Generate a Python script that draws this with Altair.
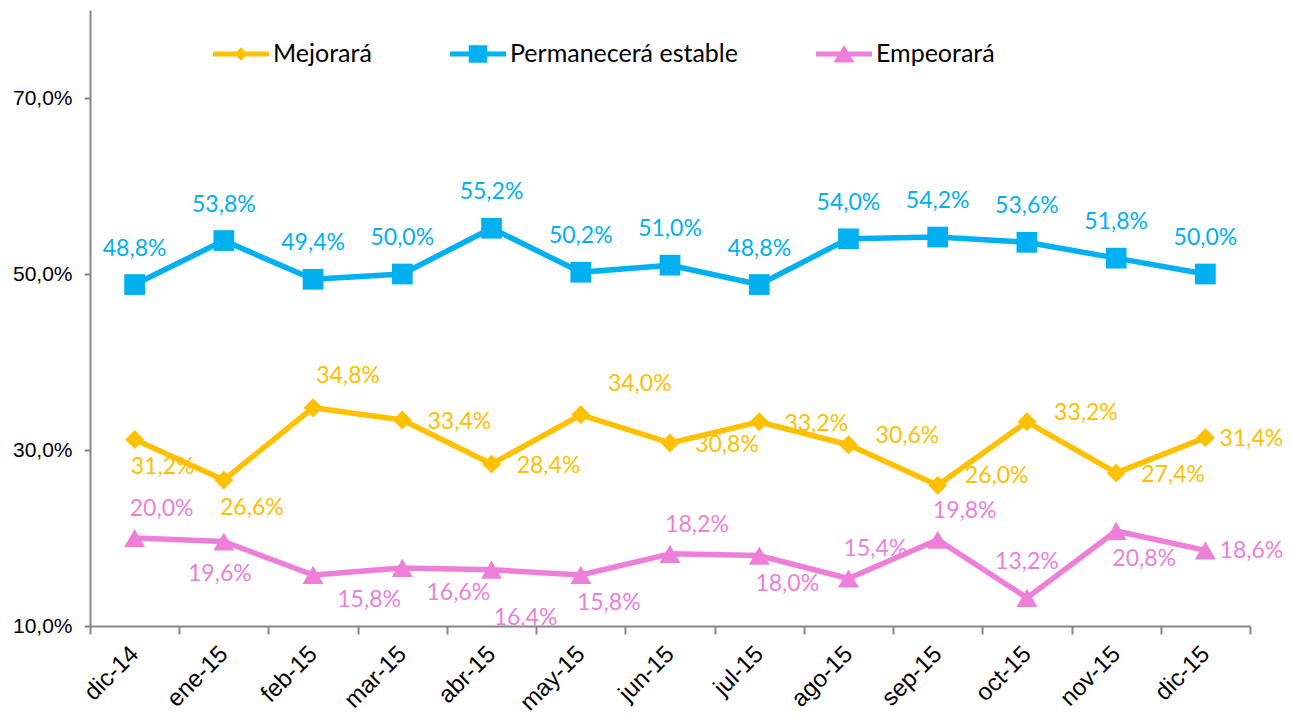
import altair as alt
import pandas as pd

meses = ["dic-14", "ene-15", "feb-15", "mar-15", "abr-15", "may-15", "jun-15",
         "jul-15", "ago-15", "sep-15", "oct-15", "nov-15", "dic-15"]
series = ["Mejorará", "Permanecerá estable", "Empeorará"]

mejorara = [31.2, 26.6, 34.8, 33.4, 28.4, 34.0, 30.8, 33.2, 30.6, 26.0, 33.2, 27.4, 31.4]
permanecera = [48.8, 53.8, 49.4, 50.0, 55.2, 50.2, 51.0, 48.8, 54.0, 54.2, 53.6, 51.8, 50.0]
empeorara = [20.0, 19.6, 15.8, 16.6, 16.4, 15.8, 18.2, 18.0, 15.4, 19.8, 13.2, 20.8, 18.6]

# data-label placement codes (compass-like)
pos_mejorara = ["SE", "SE", "NNE", "E", "E", "NEE", "E", "E", "ENE", "ENE", "ENE", "E", "EE"]
pos_permanecera = ["N"] * 13
pos_empeorara = ["NE", "S", "ESE", "ESE", "SSE", "SE", "NE", "SE", "NE", "NE", "N", "SE", "EE"]

colores = ["#FFC000", "#00B0F0", "#EE7FD9"]
formas = ["diamond", "square", "triangle-up"]
tamanos = [361, 430, 441]

# label offset style per placement code (dx, dy in px)
offsets = {
    "N": (0, -36), "NE": (27, -29), "NNE": (35, -32), "NEE": (59, -31),
    "ENE": (59, -9), "E": (57, 2), "EE": (46, 1), "ESE": (56, 25),
    "SE": (28, 28), "SSE": (34, 48), "S": (-4, 32),
}

rows = []
for serie, vals, poss in zip(series, [mejorara, permanecera, empeorara],
                             [pos_mejorara, pos_permanecera, pos_empeorara]):
    for m, v, p in zip(meses, vals, poss):
        rows.append({"mes": m, "serie": serie, "valor": v,
                     "label": f"{v:.1f}".replace(".", ",") + "%", "pos": p})
df = pd.DataFrame(rows)

x_enc = alt.X("mes:N", sort=meses, bandPosition=0.5,
              scale=alt.Scale(type="band", paddingInner=0, paddingOuter=0),
              axis=alt.Axis(title=None, labelAngle=-45, labelAlign="right",
                            labelBaseline="middle", tickBand="extent", tickSize=8,
                            labelPadding=16, labelFont="Liberation Sans",
                            labelFontSize=24, labelColor="#000000"))
y_enc = alt.Y("valor:Q", scale=alt.Scale(domain=[10, 80], nice=False, zero=False),
              axis=alt.Axis(title=None, values=[10, 30, 50, 70], grid=False,
                            labelExpr="replace(format(datum.value, '.1f'), '.', ',') + '%'",
                            tickSize=6, labelPadding=12, labelFont="Liberation Sans",
                            labelFontSize=21, labelColor="#000000"))

base = alt.Chart(df)

layers = []
# lines and markers, one layer per series, fixed colours
for serie, col in zip(series, colores):
    sub = base.transform_filter(alt.datum.serie == serie)
    layers.append(sub.mark_line(strokeWidth=5.5, strokeJoin="round", color=col)
                  .encode(x=x_enc, y=y_enc))
for serie, col, forma, tam in zip(series, colores, formas, tamanos):
    sub = base.transform_filter(alt.datum.serie == serie)
    layers.append(sub.mark_point(filled=True, opacity=1, shape=forma, size=tam, color=col)
                  .encode(x=x_enc, y=y_enc))

# legend symbols: line + marker glyphs
line_part = "M-1,-0.09H1V0.09H-1Z "
legend_paths = [
    line_part + "M0,-0.24L0.24,0L0,0.24L-0.24,0Z",
    line_part + "M-0.33,-0.31H0.33V0.31H-0.33Z",
    line_part + "M0,-0.32L0.38,0.3L-0.38,0.3Z",
]

legend = alt.Legend(
    title=None, orient="none", legendX=123, legendY=16, direction="horizontal",
    columns=3, columnPadding=78, labelOffset=4, symbolSize=3136, padding=0,
    labelFont="Lato", labelFontSize=25, labelColor="#000000", labelLimit=400,
    symbolStrokeWidth=0, symbolOpacity=1,
)

layers.append(base.mark_point(filled=True, opacity=0).encode(
    x=x_enc, y=y_enc,
    color=alt.Color("serie:N", scale=alt.Scale(domain=series, range=colores), legend=legend),
    shape=alt.Shape("serie:N", scale=alt.Scale(domain=series, range=legend_paths),
                    legend=legend),
))

# data labels
for serie, col, poss in zip(series, colores, [pos_mejorara, pos_permanecera, pos_empeorara]):
    for code in sorted(set(poss)):
        dx, dy = offsets[code]
        layers.append(
            base.transform_filter((alt.datum.serie == serie) & (alt.datum.pos == code))
            .mark_text(dx=dx, dy=dy, font="Lato", fontSize=23, align="center",
                       baseline="middle", color=col)
            .encode(x=x_enc, y=y_enc, text="label:N")
        )

chart = alt.layer(*layers).properties(
    width=1160, height=616,
    padding={"left": 82, "top": 2, "right": 35, "bottom": 92},
    autosize=alt.AutoSizeParams(type="none"),
).configure_view(stroke=None).configure_axis(
    domainColor="#868686", domainWidth=2, tickColor="#868686", tickWidth=2,
)

chart.save("out.html", embed_options={"renderer": "svg", "actions": False})
